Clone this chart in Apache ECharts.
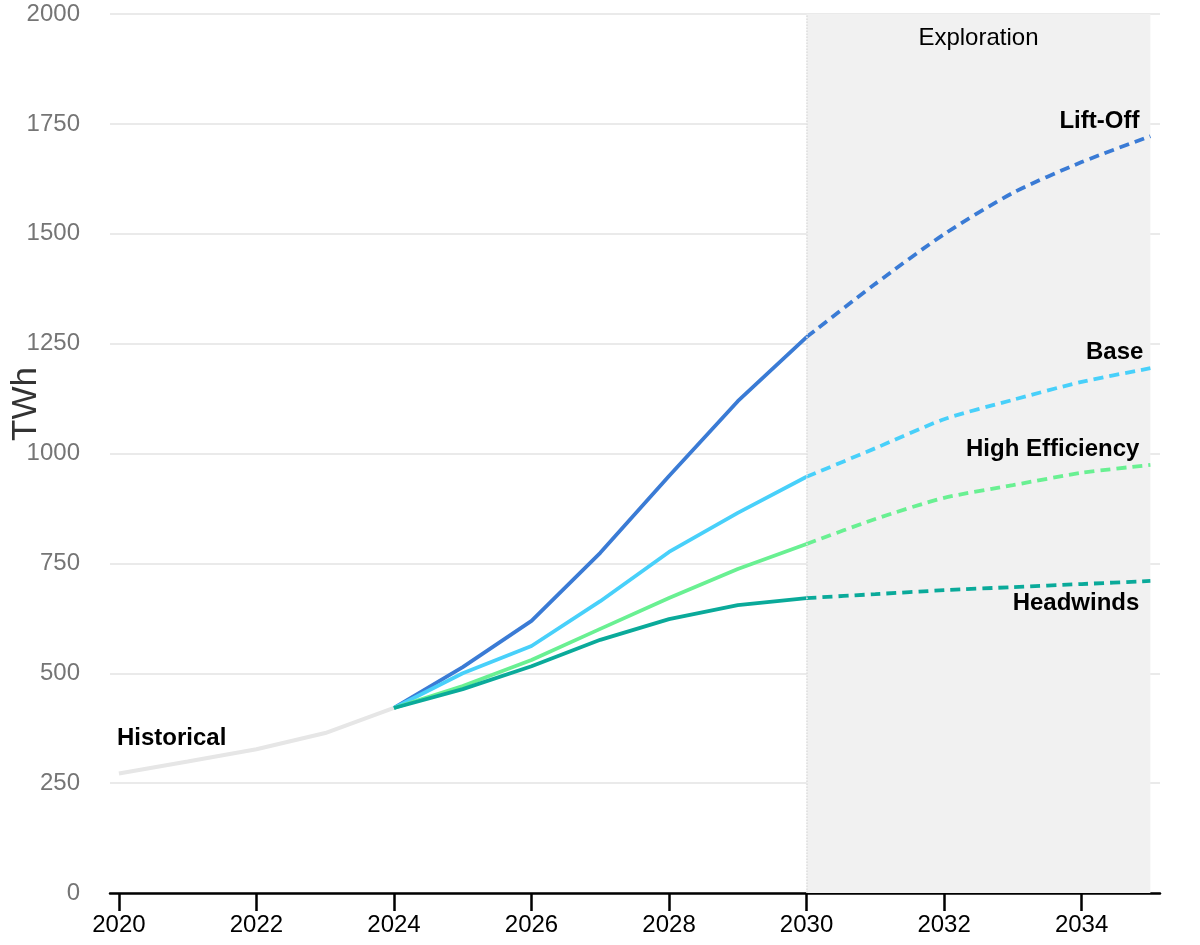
<!DOCTYPE html>
<html>
<head>
<meta charset="utf-8">
<script src="https://cdn.jsdelivr.net/npm/echarts@6/dist/echarts.min.js"></script>
<style>
html, body { margin: 0; padding: 0; background: #fff; }
#chart { width: 1200px; height: 945px; }
</style>
</head>
<body>
<div id="chart"></div>
<script>
var dom = document.getElementById("chart");
var chart = echarts.init(dom);

// data (TWh)
var histYears = [2020, 2021, 2022, 2023, 2024];
var histValues = [272, 299, 327, 364, 421];

var projYears = [2024, 2025, 2026, 2027, 2028, 2029, 2030, 2031, 2032, 2033, 2034, 2035];
var liftOff = [421, 514, 619, 774, 949, 1119, 1265, 1386, 1499, 1593, 1663, 1722];
var base = [421, 500, 562, 664, 776, 865, 947, 1012, 1078, 1122, 1163, 1194];
var highEff = [421, 471, 530, 601, 671, 737, 794, 851, 899, 928, 956, 974];
var headwinds = [421, 464, 516, 576, 623, 655, 671, 680, 689, 696, 703, 710];

var tickYears = [2020, 2022, 2024, 2026, 2028, 2030, 2032, 2034];
var yTicks = [0, 250, 500, 750, 1000, 1250, 1500, 1750, 2000];
var explorationStart = 2030;
var explorationEnd = 2035;

var scenarios = [
  { name: 'Lift-Off', values: liftOff, color: '#3a7bd5', offset: [-11, -15] },
  { name: 'Base', values: base, color: '#48d0fa', offset: [-7, -16] },
  { name: 'High Efficiency', values: highEff, color: '#69f092', offset: [-11, -16] },
  { name: 'Headwinds', values: headwinds, color: '#0aaa9a', offset: [-11, 22] }
];

var FONT = 'Liberation Sans, Arial, sans-serif';

function pairs(years, vals) {
  var out = [];
  for (var i = 0; i < years.length; i++) {
    out.push([years[i], vals[i]]);
  }
  return out;
}

// a text label pinned to a data point, drawn through markPoint
function pointLabel(coord, text, align, offset) {
  return {
    symbol: 'circle',
    symbolSize: 2,
    itemStyle: { color: 'rgba(0,0,0,0)' },
    label: {
      show: true,
      position: 'inside',
      align: align,
      verticalAlign: 'middle',
      offset: offset,
      formatter: text,
      fontFamily: FONT,
      fontSize: 24,
      fontWeight: 'bold',
      color: '#000'
    },
    data: [{ coord: coord }]
  };
}

var histData = pairs(histYears, histValues);

var series = [{
  name: 'Historical',
  type: 'line',
  data: histData,
  symbol: 'none',
  lineStyle: { color: '#e6e6e6', width: 4 },
  z: 1,
  markPoint: pointLabel(histData[0], 'Historical', 'left', [-2, -35]),
  markArea: {
    silent: true,
    itemStyle: { color: '#f1f1f1' },
    label: {
      show: true,
      position: 'insideTop',
      distance: 12,
      color: '#000',
      fontSize: 24,
      fontFamily: FONT
    },
    data: [[{ xAxis: explorationStart, name: 'Exploration' }, { xAxis: explorationEnd }]]
  },
  markLine: {
    silent: true,
    symbol: 'none',
    label: { show: false },
    lineStyle: { color: '#dddddd', type: 'dotted', width: 1.5 },
    data: [{ xAxis: explorationStart }]
  }
}];

scenarios.forEach(function (s) {
  var all = pairs(projYears, s.values);
  var solid = all.slice(0, 7);
  var dashed = all.slice(6);
  series.push({
    name: s.name,
    type: 'line',
    data: solid,
    symbol: 'none',
    lineStyle: { color: s.color, width: 3.8 },
    z: 3
  });
  series.push({
    name: s.name + ' (exploration)',
    type: 'line',
    data: dashed,
    symbol: 'none',
    smooth: 0.25,
    lineStyle: { color: s.color, width: 3.8, type: [10, 6] },
    z: 3,
    markPoint: pointLabel(dashed[dashed.length - 1], s.name, 'right', s.offset)
  });
});

var option = {
  animation: false,
  backgroundColor: '#fff',
  textStyle: { fontFamily: FONT },
  grid: { left: 110, right: 40, top: 14, bottom: 52 },
  xAxis: {
    type: 'value',
    min: 2019.87,
    max: 2035.14,
    splitLine: { show: false },
    axisLine: { show: true, lineStyle: { color: '#000', width: 2.5 } },
    axisTick: {
      show: true,
      length: 18,
      customValues: tickYears,
      lineStyle: { color: '#000', width: 2.5 }
    },
    axisLabel: {
      customValues: tickYears,
      margin: 20,
      color: '#000',
      fontSize: 24,
      formatter: function (v) { return String(v); }
    }
  },
  yAxis: {
    type: 'value',
    min: 0,
    max: 2000,
    interval: 250,
    axisLine: { show: false },
    axisTick: { show: false },
    splitLine: { lineStyle: { color: '#e3e3e3', width: 1.5 } },
    axisLabel: {
      margin: 30,
      color: '#757575',
      fontSize: 24,
      formatter: function (v) { return yTicks.indexOf(v) >= 0 ? String(v) : ''; }
    }
  },
  graphic: [{
    type: 'text',
    left: 9,
    top: 367,
    rotation: Math.PI / 2,
    style: {
      text: 'TWh',
      fontSize: 35,
      fill: '#333',
      fontFamily: FONT
    }
  }],
  series: series
};

if (option && typeof option === "object") {
  chart.setOption(option, true);
}
</script>
</body>
</html>
